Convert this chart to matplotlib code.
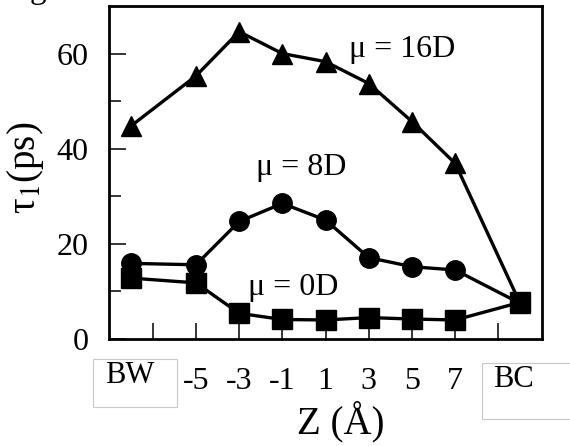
import numpy as np
import matplotlib.pyplot as plt
from matplotlib.patches import Rectangle

plt.rcParams['font.family'] = ['Liberation Serif', 'DejaVu Serif']
plt.rcParams['mathtext.fontset'] = 'stix'

# Z positions (BW and BC placed off the numeric range)
z_pos = [-8, -5, -3, -1, 1, 3, 5, 7, 10]
tau_16D = [44.8, 55.3, 64.6, 60.0, 58.3, 53.7, 45.7, 36.9, 7.5]
tau_8D = [15.9, 15.6, 24.7, 28.5, 25.0, 17.1, 15.2, 14.5, 7.5]
tau_0D = [12.8, 11.8, 5.4, 4.1, 4.0, 4.5, 4.2, 4.0, 7.7]

xtick_pos = [-7, -5, -3, -1, 1, 3, 5, 7, 9]
xtick_lab = ['', '-5', '-3', '-1', '1', '3', '5', '7', '']

W, H = 570, 446
fig = plt.figure(figsize=(W / 100, H / 100), dpi=100)
ax = fig.add_axes([109.5 / W, 1 - 339 / H, 432.2 / W, 333 / H])

ax.plot(z_pos, tau_16D, color='black', lw=2.4, marker='^', ms=14, zorder=3)
ax.plot(z_pos, tau_8D, color='black', lw=2.4, marker='o', ms=14, zorder=4)
ax.plot(z_pos, tau_0D, color='black', lw=2.4, marker='s', ms=14, zorder=5)

ax.set_xlim(-9, 11)
ax.set_ylim(0, 70)
ax.set_xticks(xtick_pos)
ax.set_xticklabels(xtick_lab)
ax.set_yticks([0, 20, 40, 60])
ax.set_yticks([10, 30, 50], minor=True)
ax.tick_params(axis='both', which='major', direction='in', width=1.1, labelsize=23)
ax.tick_params(axis='y', which='major', length=12, pad=15)
ax.tick_params(axis='y', which='minor', direction='in', length=8.5, width=1.1)
ax.tick_params(axis='x', which='major', length=11.5, pad=20)
for s in ax.spines.values():
    s.set_linewidth(2.0)

ax.text(4.54, 59.3, 'μ = 16D', fontsize=23, ha='center', va='baseline')
ax.text(-0.15, 34.5, 'μ = 8D', fontsize=23, ha='center', va='baseline')
ax.text(-0.5, 9.25, 'μ = 0D', fontsize=23, ha='center', va='baseline')

# boxed end labels
for (x0, y0, x1, y1) in [(93.3, 359.3, 176.7, 407.3), (481.7, 362.7, 575, 419)]:
    fig.add_artist(Rectangle((x0 / W, 1 - y1 / H), (x1 - x0) / W, (y1 - y0) / H,
                             transform=fig.transFigure, facecolor='white',
                             edgecolor='#c8c8c8', lw=0.8))
fig.text(105 / W, 1 - 383 / H, 'BW', fontsize=22, ha='left', va='baseline')
fig.text(492.7 / W, 1 - 386.7 / H, 'BC', fontsize=22, ha='left', va='baseline')

fig.text(340.5 / W, 1 - 433.3 / H, 'Z (Å)', fontsize=28, ha='center', va='baseline')
fig.text(25 / W, 1 - 168 / H, 'τ$_{1}$(ps)', fontsize=28, rotation=90,
         ha='center', va='center')
fig.text(38 / W, 1 + 2 / H, 'g', fontsize=24, ha='center', va='baseline')

fig.savefig('out.png', dpi=100)
